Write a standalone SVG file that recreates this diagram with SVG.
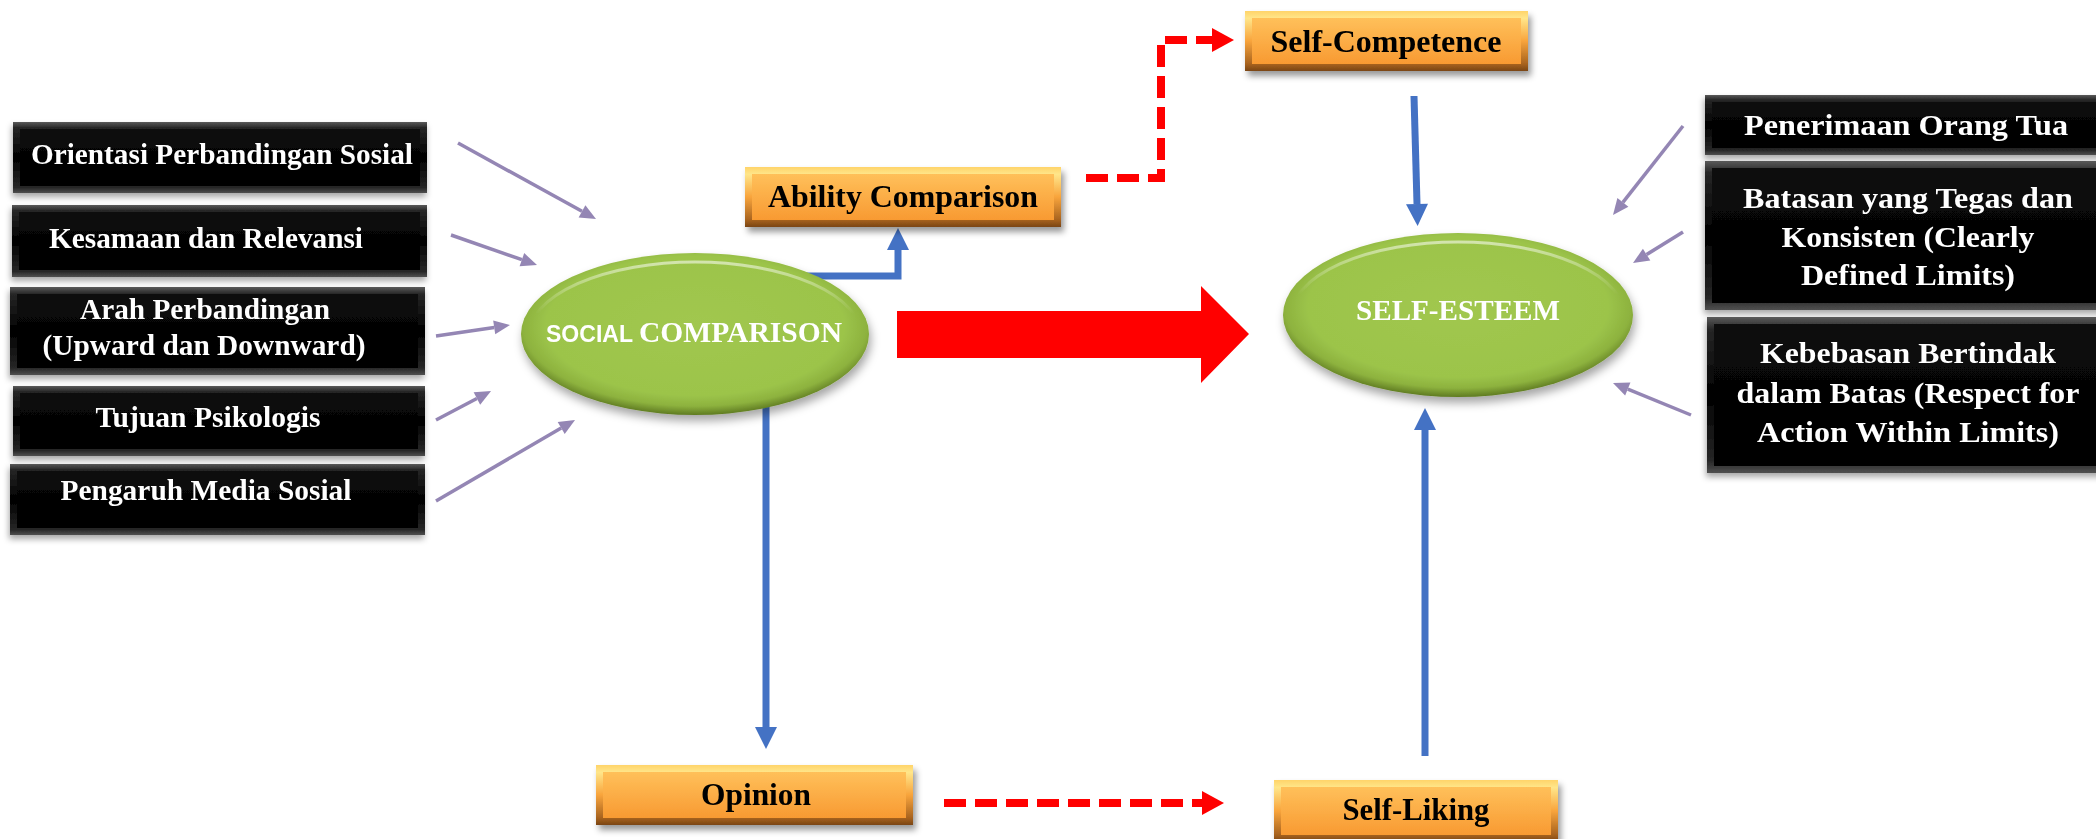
<svg xmlns="http://www.w3.org/2000/svg" width="2096" height="839" viewBox="0 0 2096 839">
<style>
.bt{font-family:"Liberation Serif","Times New Roman",serif;font-weight:bold;fill:#fff;font-size:29px;text-anchor:middle}
.ot{font-family:"Liberation Serif","Times New Roman",serif;font-weight:bold;fill:#000;font-size:32px;text-anchor:middle}
.et{font-family:"Liberation Serif","Times New Roman",serif;font-weight:bold;fill:#fff;font-size:29px}
.es{font-family:"Liberation Sans",Arial,sans-serif;font-weight:bold;fill:#fff;font-size:24px}
.pu{stroke:#9486B4;stroke-width:3.5;fill:none;marker-end:url(#mp)}
.bl{stroke:#4472C4;stroke-width:7;fill:none;marker-end:url(#mb)}
.rd{stroke:#FF0000;stroke-width:8;fill:none;stroke-dasharray:22 9;marker-end:url(#mr)}
.bo{fill:url(#gBo)}
.bi{fill:url(#gBi)}
.oo{fill:url(#gOo)}
.oi{fill:url(#gOi)}
.el{fill:url(#gEl)}
.eh{fill:none;stroke:url(#gEh);stroke-width:3}
</style>
<defs>
<linearGradient id="gBo" x1="0" y1="0" x2="0" y2="1">
<stop offset="0" stop-color="#5a5a5a"/><stop offset="0.08" stop-color="#262626"/><stop offset="0.5" stop-color="#000"/><stop offset="0.92" stop-color="#262626"/><stop offset="1" stop-color="#505050"/>
</linearGradient>
<linearGradient id="gBi" x1="0" y1="0" x2="0" y2="1">
<stop offset="0" stop-color="#0a0a0a"/><stop offset="1" stop-color="#000"/>
</linearGradient>
<linearGradient id="gOo" x1="0" y1="0" x2="0" y2="1">
<stop offset="0" stop-color="#FFD46A"/><stop offset="0.12" stop-color="#FFE68A"/><stop offset="0.5" stop-color="#F8A43C"/><stop offset="0.88" stop-color="#A8631F"/><stop offset="1" stop-color="#7A4514"/>
</linearGradient>
<linearGradient id="gOi" x1="0" y1="0" x2="0" y2="1">
<stop offset="0" stop-color="#FFC05A"/><stop offset="1" stop-color="#F89A32"/>
</linearGradient>
<radialGradient id="gEl" cx="0.5" cy="0.45" r="0.55">
<stop offset="0" stop-color="#A1C74F"/><stop offset="0.78" stop-color="#9CC44A"/><stop offset="0.9" stop-color="#8DB23E"/><stop offset="1" stop-color="#5F7B22"/>
</radialGradient>
<linearGradient id="gEh" x1="0" y1="0" x2="0" y2="1">
<stop offset="0" stop-color="#fff" stop-opacity="0.55"/><stop offset="0.35" stop-color="#fff" stop-opacity="0"/>
</linearGradient>
<filter id="sh" x="-10%" y="-20%" width="125%" height="150%">
<feDropShadow dx="-1" dy="4" stdDeviation="3" flood-color="#000" flood-opacity="0.35"/>
</filter>
<filter id="sho" x="-10%" y="-20%" width="125%" height="150%">
<feDropShadow dx="3" dy="5" stdDeviation="3" flood-color="#000" flood-opacity="0.4"/>
</filter>
<filter id="she" x="-10%" y="-20%" width="125%" height="150%">
<feDropShadow dx="2" dy="6" stdDeviation="5" flood-color="#000" flood-opacity="0.35"/>
</filter>
<marker id="mp" markerUnits="userSpaceOnUse" markerWidth="16" markerHeight="14" refX="0" refY="7" orient="auto" overflow="visible">
<path d="M0,0 L16,7 L0,14 Z" fill="#9486B4"/>
</marker>
<marker id="mb" markerUnits="userSpaceOnUse" markerWidth="22" markerHeight="22" refX="0" refY="11" orient="auto" overflow="visible">
<path d="M0,0 L22,11 L0,22 Z" fill="#4472C4"/>
</marker>
<marker id="mr" markerUnits="userSpaceOnUse" markerWidth="22" markerHeight="24" refX="0" refY="12" orient="auto" overflow="visible">
<path d="M0,0 L22,12 L0,24 Z" fill="#FF0000"/>
</marker>
</defs>
<rect width="2096" height="839" fill="#fff"/>

<g id="connectors">
<path class="pu" d="M458,143 L582,211.3"/>
<path class="pu" d="M451,235 L521.9,259.7"/>
<path class="pu" d="M436,336 L494.2,327.4"/>
<path class="pu" d="M436,420 L476.9,398.5"/>
<path class="pu" d="M436,501 L561.2,428"/>
<path class="pu" d="M1683,126 L1622.9,202.4"/>
<path class="pu" d="M1683,232 L1646.6,254.6"/>
<path class="pu" d="M1691,415 L1627.8,389.1"/>
<path class="bl" d="M800,276 H898 V250"/>
<path class="bl" d="M766,395 V727"/>
<path class="bl" d="M1414,96 L1417,204"/>
<path class="bl" d="M1425,756 V430"/>
<path class="rd" d="M1086,178 H1161 V40 H1212"/>
<path class="rd" d="M944,803 H1202"/>
<polygon points="897,311 1201,311 1201,286 1249,334 1201,383 1201,358 897,358" fill="#FF0000"/>
</g>

<g id="n-orientasi" filter="url(#sh)">
<rect class="bo" x="13" y="122" width="414" height="71"/>
<rect class="bi" x="20" y="129" width="400" height="57"/>
<text class="bt" x="222" y="164" textLength="382" lengthAdjust="spacingAndGlyphs">Orientasi Perbandingan Sosial</text>
</g>
<g id="n-kesamaan" filter="url(#sh)">
<rect class="bo" x="12" y="205" width="415" height="72"/>
<rect class="bi" x="19" y="212" width="401" height="58"/>
<text class="bt" x="206" y="248" textLength="314" lengthAdjust="spacingAndGlyphs">Kesamaan dan Relevansi</text>
</g>
<g id="n-arah" filter="url(#sh)">
<rect class="bo" x="10" y="287" width="415" height="88"/>
<rect class="bi" x="17" y="294" width="401" height="74"/>
<text class="bt" x="205" y="319" textLength="250" lengthAdjust="spacingAndGlyphs">Arah Perbandingan</text>
<text class="bt" x="204" y="355" textLength="323" lengthAdjust="spacingAndGlyphs">(Upward dan Downward)</text>
</g>
<g id="n-tujuan" filter="url(#sh)">
<rect class="bo" x="13" y="386" width="412" height="70"/>
<rect class="bi" x="20" y="393" width="398" height="56"/>
<text class="bt" x="208" y="427" textLength="225" lengthAdjust="spacingAndGlyphs">Tujuan Psikologis</text>
</g>
<g id="n-pengaruh" filter="url(#sh)">
<rect class="bo" x="10" y="464" width="415" height="71"/>
<rect class="bi" x="17" y="471" width="401" height="57"/>
<text class="bt" x="206" y="500" textLength="291" lengthAdjust="spacingAndGlyphs">Pengaruh Media Sosial</text>
</g>

<g id="n-penerimaan" filter="url(#sh)">
<rect class="bo" x="1705" y="95" width="400" height="60"/>
<rect class="bi" x="1712" y="102" width="393" height="46"/>
<text class="bt" x="1906" y="135" font-size="31" textLength="324" lengthAdjust="spacingAndGlyphs">Penerimaan Orang Tua</text>
</g>
<g id="n-batasan" filter="url(#sh)">
<rect class="bo" x="1705" y="161" width="400" height="149"/>
<rect class="bi" x="1712" y="168" width="393" height="135"/>
<text class="bt" x="1908" y="208" font-size="31" textLength="330" lengthAdjust="spacingAndGlyphs">Batasan yang Tegas dan</text>
<text class="bt" x="1908" y="247" font-size="31" textLength="253" lengthAdjust="spacingAndGlyphs">Konsisten (Clearly</text>
<text class="bt" x="1908" y="285" font-size="31" textLength="214" lengthAdjust="spacingAndGlyphs">Defined Limits)</text>
</g>
<g id="n-kebebasan" filter="url(#sh)">
<rect class="bo" x="1707" y="317" width="400" height="156"/>
<rect class="bi" x="1714" y="324" width="393" height="142"/>
<text class="bt" x="1908" y="363" font-size="31" textLength="296" lengthAdjust="spacingAndGlyphs">Kebebasan Bertindak</text>
<text class="bt" x="1908" y="403" font-size="31" textLength="343" lengthAdjust="spacingAndGlyphs">dalam Batas (Respect for</text>
<text class="bt" x="1908" y="442" font-size="31" textLength="302" lengthAdjust="spacingAndGlyphs">Action Within Limits)</text>
</g>

<g id="n-social-comparison" filter="url(#she)">
<ellipse class="el" cx="695" cy="334" rx="174" ry="81"/>
<ellipse class="eh" cx="695" cy="336" rx="166" ry="74"/>
<text x="546" y="342"><tspan class="es" textLength="87" lengthAdjust="spacingAndGlyphs">SOCIAL</tspan></text>
<text class="et" x="639" y="342" textLength="203" lengthAdjust="spacingAndGlyphs">COMPARISON</text>
</g>
<g id="n-self-esteem" filter="url(#she)">
<ellipse class="el" cx="1458" cy="315" rx="175" ry="82"/>
<ellipse class="eh" cx="1458" cy="317" rx="167" ry="75"/>
<text class="et" x="1458" y="320" text-anchor="middle" textLength="204" lengthAdjust="spacingAndGlyphs">SELF-ESTEEM</text>
</g>

<g id="n-ability" filter="url(#sho)">
<rect class="oo" x="745" y="167" width="316" height="60"/>
<rect class="oi" x="752" y="174" width="302" height="46"/>
<text class="ot" x="903" y="207" textLength="270" lengthAdjust="spacingAndGlyphs">Ability Comparison</text>
</g>
<g id="n-self-competence" filter="url(#sho)">
<rect class="oo" x="1245" y="11" width="283" height="60"/>
<rect class="oi" x="1252" y="18" width="269" height="46"/>
<text class="ot" x="1386" y="52" textLength="231" lengthAdjust="spacingAndGlyphs">Self-Competence</text>
</g>
<g id="n-opinion" filter="url(#sho)">
<rect class="oo" x="596" y="765" width="317" height="60"/>
<rect class="oi" x="603" y="772" width="303" height="46"/>
<text class="ot" x="756" y="805" textLength="110" lengthAdjust="spacingAndGlyphs">Opinion</text>
</g>
<g id="n-self-liking" filter="url(#sho)">
<rect class="oo" x="1274" y="780" width="284" height="62"/>
<rect class="oi" x="1281" y="787" width="270" height="48"/>
<text class="ot" x="1416" y="820" textLength="147" lengthAdjust="spacingAndGlyphs">Self-Liking</text>
</g>
</svg>
